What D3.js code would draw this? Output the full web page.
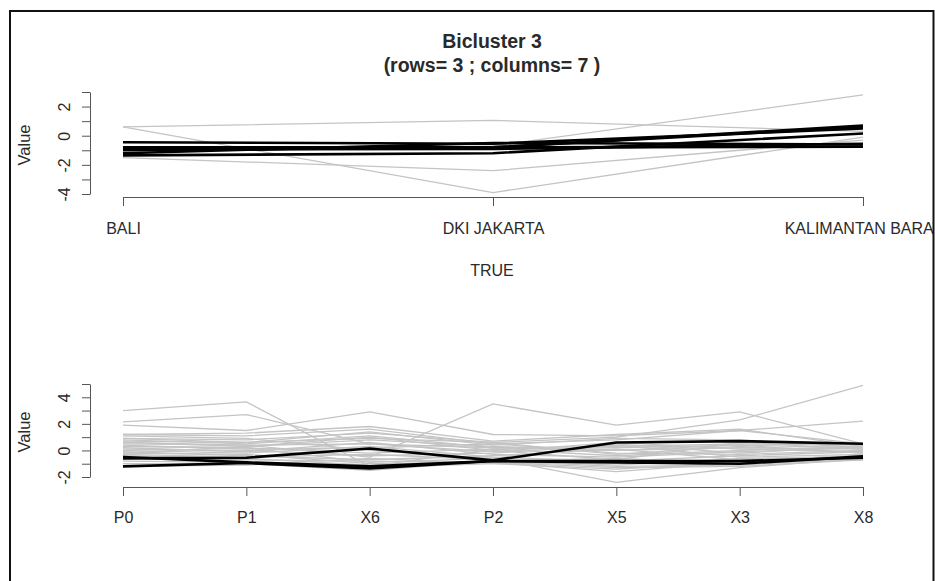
<!DOCTYPE html>
<html><head><meta charset="utf-8">
<script src="https://cdn.jsdelivr.net/npm/d3@7"></script>
<style>
html,body{margin:0;padding:0;background:#fff;}
svg{display:block;font-family:"Liberation Sans",Arial,sans-serif;}
</style></head>
<body><svg id="chart" width="935" height="581"></svg>
<script>
// ---- data ----
const rowNames = ["BALI", "DKI JAKARTA", "KALIMANTAN BARAT"];
const colNames = ["P0", "P1", "X6", "P2", "X5", "X3", "X8"];
// bicluster values: one array per row, across colNames
const baliValues = [-1.2, -0.95, -1.35, -0.8, -0.9, -1.0, -0.45];
const dkiValues  = [-0.5, -0.9, -1.2, -0.8, -0.8, -0.8, -0.55];
const kalValues  = [-0.6, -0.55, 0.15, -0.75, 0.6, 0.7, 0.5];
// other columns (not in bicluster), values at BALI, DKI JAKARTA, KALIMANTAN BARAT
const otherColumns = [
  [0.6, 1.05, 0.3],
  [0.6, -3.9, -0.1],
  [-1.5, -2.4, -0.3],
  [-1.0, -0.7, 2.8]
];
// other rows (not in bicluster), values across colNames
const otherRows = [
  [3.0, 3.65, -1.2, 0.1, -0.4, 0.0, 0.3],
  [2.15, 2.7, 0.5, 0.2, 0.0, 0.4, 0.2],
  [1.9, 1.5, 2.9, 1.2, 1.1, 1.5, 0.5],
  [0.6, 0.4, -0.5, 3.5, 1.9, 2.9, 0.5],
  [0.9, 0.8, 1.3, 0.6, 1.0, 2.3, 4.9],
  [1.2, 1.1, 1.6, 0.5, 0.8, 1.5, 2.2],
  [0.3, 0.2, -0.9, -0.6, -2.4, -1.3, -0.6],
  [-0.2, -0.3, -1.0, -0.9, -1.6, -0.9, -0.4],
  [1.2, 1.3, 1.8, 0.7, 1.2, 1.6, 0.3],
  [0.9, 0.6, 1.4, 0.4, 0.9, 0.8, 0.2],
  [0.8, 0.5, 1.1, 0.2, 0.3, 0.5, 0.4],
  [0.6, 0.3, 0.8, 0.3, 0.0, 0.2, 0.1],
  [0.5, 0.4, 0.5, -0.1, 0.6, 0.1, -0.1],
  [0.4, 0.1, 0.2, 0.5, -0.2, -0.3, 0.0],
  [0.3, 0.2, -0.2, 0.1, 0.2, 0.4, -0.2],
  [0.2, -0.1, 0.6, -0.3, -0.5, -0.1, 0.2],
  [0.1, 0.0, -0.4, -0.2, 0.4, -0.5, -0.3],
  [0.0, -0.2, 0.3, -0.5, -0.8, -0.4, -0.1],
  [-0.1, -0.4, -0.7, -0.4, 0.1, -0.7, -0.4],
  [-0.3, -0.5, -0.3, -0.7, -1.1, -0.6, -0.5],
  [-0.4, -0.6, -1.1, -0.8, -0.6, -1.0, -0.6],
  [-0.6, -0.7, -0.8, -0.9, -1.3, -1.2, -0.7],
  [-0.8, -0.9, -1.3, -1.0, -0.9, -0.8, -0.5],
  [-1.0, -1.0, -1.5, -0.8, -1.2, -1.1, -0.6],
  [-1.2, -1.1, -0.6, -1.0, -1.4, -0.9, -0.7],
  [0.7, 0.6, 0.9, 0.6, -0.3, 0.3, -0.2],
  [-0.2, 0.3, 1.0, 0.0, -0.7, 0.6, 0.1],
  [1.1, 0.9, 0.0, -0.6, 0.5, -0.2, 0.3]
];
const topYTicks = [-4, -3, -2, -1, 0, 1, 2, 3];
const bottomYTicks = [-2, -1, 0, 1, 2, 3, 4, 5];
const titleLines = ["Bicluster 3", "(rows= 3 ; columns= 7 )"];
const topXLabel = "TRUE";
const yLabel = "Value";

// ---- drawing ----
const bicRows = [baliValues, dkiValues, kalValues];
const svg = d3.select("#chart");
const TXT = "#2a2a2a", AX = "#555", GREY = "#c4c4c4";

svg.append("defs").append("clipPath").attr("id", "frameclip")
  .append("rect").attr("x", 0).attr("y", 0).attr("width", 933).attr("height", 581);
const root = svg.append("g").attr("clip-path", "url(#frameclip)");

// title
root.append("text").attr("x", 492).attr("y", 48).attr("text-anchor", "middle")
  .attr("font-weight", "bold").attr("font-size", 19.5).attr("fill", TXT).text(titleLines[0]);
root.append("text").attr("x", 492).attr("y", 72).attr("text-anchor", "middle")
  .attr("font-weight", "bold").attr("font-size", 19.5).attr("fill", TXT).text(titleLines[1]);

function panel(cfg) {
  const x = d3.scalePoint().domain(cfg.cats).range([123, 863]);
  const y = d3.scaleLinear().domain(cfg.ydom).range(cfg.yrange);
  const g = root.append("g");
  const line = d3.line().x((d, i) => x(cfg.cats[i])).y(d => y(d));
  g.append("g").selectAll("path").data(cfg.grey).join("path")
    .attr("d", line).attr("fill", "none").attr("stroke", GREY).attr("stroke-width", 1.3);
  g.append("g").selectAll("path").data(cfg.black).join("path")
    .attr("d", line).attr("fill", "none").attr("stroke", "#000").attr("stroke-width", 2.6)
    .attr("stroke-linejoin", "round");
  // y axis
  const ya = g.append("g").attr("transform", "translate(90,0)")
    .call(d3.axisLeft(y).tickValues(cfg.yticks).tickSize(8).tickSizeOuter(0)
      .tickFormat(d => d % 2 === 0 ? String(d) : ""));
  ya.select(".domain").attr("stroke", AX);
  ya.selectAll(".tick line").attr("stroke", AX);
  ya.selectAll(".tick text").attr("x", null).attr("dy", null).attr("y", 0)
    .attr("transform", "translate(-20,0) rotate(-90)").attr("text-anchor", "middle")
    .attr("font-size", 16).attr("fill", TXT).attr("font-family", null);
  // x axis
  const xa = g.append("g").attr("transform", `translate(0,${cfg.xAxisY})`)
    .call(d3.axisBottom(x).tickSize(9).tickSizeOuter(0));
  xa.select(".domain").attr("stroke", AX);
  xa.selectAll(".tick line").attr("stroke", AX);
  xa.selectAll(".tick text").attr("dy", null).attr("y", cfg.labelDy)
    .attr("font-size", 16).attr("fill", TXT).attr("font-family", null);
  // y label
  g.append("text").attr("transform", `translate(30,${cfg.ylabY}) rotate(-90)`)
    .attr("text-anchor", "middle").attr("font-size", 16.5).attr("fill", TXT).text(yLabel);
  return {x, y};
}

// top panel: x = rows, lines = columns
const topBlack = colNames.map((c, j) => bicRows.map(r => r[j]));
panel({cats: rowNames, ydom: [-4, 3], yrange: [194, 92], yticks: topYTicks,
  grey: otherColumns, black: topBlack, xAxisY: 197, labelDy: 37, ylabY: 145});
root.append("text").attr("x", 492).attr("y", 276).attr("text-anchor", "middle")
  .attr("font-size", 16).attr("fill", TXT).text(topXLabel);

// bottom panel: x = columns, lines = rows
panel({cats: colNames, ydom: [-2, 5], yrange: [477, 384], yticks: bottomYTicks,
  grey: otherRows, black: bicRows, xAxisY: 487, labelDy: 36, ylabY: 432});

// frame
svg.append("path").attr("d", "M10,582V11H933.5V582")
  .attr("fill", "none").attr("stroke", "#111").attr("stroke-width", 2);
</script></body></html>
